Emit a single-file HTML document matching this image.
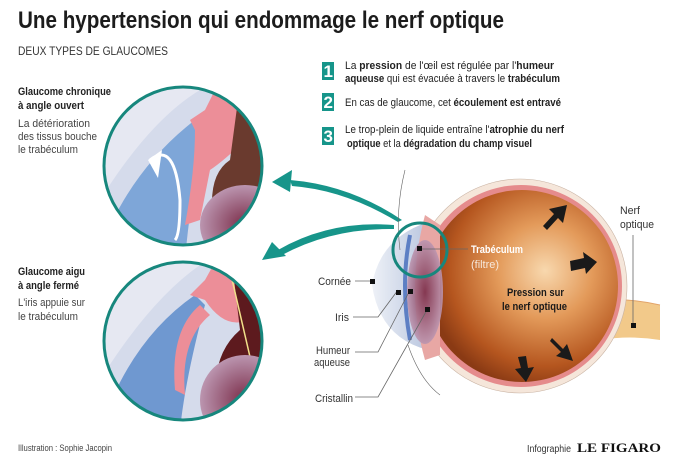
<!DOCTYPE html>
<html><head><meta charset="utf-8"><style>
html,body{margin:0;padding:0;background:#fff;}
svg{display:block;}
text{font-family:"Liberation Sans Narrow","Liberation Sans",sans-serif;}
.b{font-weight:bold;}
</style></head><body>
<svg width="680" height="464" viewBox="0 0 680 464" xmlns="http://www.w3.org/2000/svg">
<defs>
<clipPath id="c1"><circle cx="183" cy="166" r="79"/></clipPath>
<clipPath id="c2"><circle cx="183" cy="341" r="79"/></clipPath>
<radialGradient id="eyeg" cx="0.62" cy="0.42" r="0.62">
<stop offset="0" stop-color="#f8d8ae"/><stop offset="0.4" stop-color="#e39a5a"/><stop offset="0.8" stop-color="#b5561f"/><stop offset="1" stop-color="#8a3a14"/></radialGradient>
<radialGradient id="lens" cx="0.5" cy="0.5" r="0.6"><stop offset="0" stop-color="#7a2c48"/><stop offset="1" stop-color="#c8aac4"/></radialGradient>
<linearGradient id="cor" x1="0" x2="1"><stop offset="0" stop-color="#eef1f7"/><stop offset="1" stop-color="#b9c6df"/></linearGradient>
</defs>
<rect width="680" height="464" fill="#fff"/>
<text x="18" y="28" font-size="24" fill="#1c1c1c" textLength="486" lengthAdjust="spacingAndGlyphs" style="font-weight:600">Une hypertension qui endommage le nerf optique</text>
<text x="18" y="55" font-size="12" fill="#333" textLength="150" lengthAdjust="spacingAndGlyphs">DEUX TYPES DE GLAUCOMES</text>

<g font-size="11" fill="#222">
<rect x="322" y="62" width="12" height="18" fill="#16958a"/><text x="323.5" y="77" font-size="17" fill="#fff" class="b">1</text>
<text x="345" y="69" textLength="209" lengthAdjust="spacingAndGlyphs">La <tspan class="b">pression</tspan> de l'œil est régulée par l'<tspan class="b">humeur</tspan></text>
<text x="345" y="82" textLength="215" lengthAdjust="spacingAndGlyphs"><tspan class="b">aqueuse</tspan> qui est évacuée à travers le <tspan class="b">trabéculum</tspan></text>
<rect x="322" y="93" width="12" height="18" fill="#16958a"/><text x="323.5" y="108" font-size="17" fill="#fff" class="b">2</text>
<text x="345" y="106" textLength="216" lengthAdjust="spacingAndGlyphs">En cas de glaucome, cet <tspan class="b">écoulement est entravé</tspan></text>
<rect x="322" y="127" width="12" height="18" fill="#16958a"/><text x="323.5" y="142" font-size="17" fill="#fff" class="b">3</text>
<text x="345" y="133" textLength="219" lengthAdjust="spacingAndGlyphs">Le trop-plein de liquide entraîne l'<tspan class="b">atrophie du nerf</tspan></text>
<text x="347" y="147" textLength="185" lengthAdjust="spacingAndGlyphs"><tspan class="b">optique</tspan> et la <tspan class="b">dégradation du champ visuel</tspan></text>
</g>

<g font-size="11" fill="#222">
<text x="18" y="95" class="b" textLength="93" lengthAdjust="spacingAndGlyphs">Glaucome chronique</text>
<text x="18" y="109" class="b" textLength="66" lengthAdjust="spacingAndGlyphs">à angle ouvert</text>
<text x="18" y="127" fill="#444" textLength="72" lengthAdjust="spacingAndGlyphs">La détérioration</text>
<text x="18" y="140" fill="#444" textLength="79" lengthAdjust="spacingAndGlyphs">des tissus bouche</text>
<text x="18" y="153" fill="#444" textLength="60" lengthAdjust="spacingAndGlyphs">le trabéculum</text>
<text x="18" y="275" class="b" textLength="67" lengthAdjust="spacingAndGlyphs">Glaucome aigu</text>
<text x="18" y="289" class="b" textLength="61" lengthAdjust="spacingAndGlyphs">à angle fermé</text>
<text x="18" y="306" fill="#444" textLength="67" lengthAdjust="spacingAndGlyphs">L'iris appuie sur</text>
<text x="18" y="320" fill="#444" textLength="60" lengthAdjust="spacingAndGlyphs">le trabéculum</text>
</g>

<g clip-path="url(#c1)">
<rect x="100" y="85" width="170" height="170" fill="#e6e8f2"/>
<path d="M100 200 Q150 120 200 90 L270 90 L270 260 L100 260Z" fill="#d5dbeb"/>
<path d="M100 250 Q130 170 195 120 L205 130 Q190 200 185 260Z" fill="#7ea6d8"/>
<path d="M190 120 L205 110 L215 90 L250 90 L245 140 Q225 160 210 170 L200 220 L185 225 Q195 170 195 130Z" fill="#ec8e98"/>
<path d="M240 85 L270 85 L270 250 L220 250 Q200 180 230 160Z" fill="#6a3a2e"/>
<ellipse cx="245" cy="225" rx="45" ry="40" fill="url(#lens)"/>
<path d="M150 160 Q175 140 180 200 Q180 235 175 240" fill="none" stroke="#fff" stroke-width="3"/>
<path d="M148 160 L162 150 L158 178Z" fill="#fff"/>
</g>
<circle cx="183" cy="166" r="79" fill="none" stroke="#17877d" stroke-width="3"/>

<g clip-path="url(#c2)">
<rect x="100" y="262" width="170" height="170" fill="#e6e8f2"/>
<path d="M100 380 Q150 300 200 265 L270 265 L270 430 L100 430Z" fill="#d5dbeb"/>
<path d="M100 430 Q130 340 195 295 L205 305 Q185 380 180 430Z" fill="#6f98d0"/>
<path d="M190 295 L205 280 L215 262 L250 262 L248 320 Q225 330 205 300Z" fill="#ec8e98"/>
<path d="M200 305 Q170 330 175 390 L185 395 Q180 340 210 315Z" fill="#ec8e98"/>
<path d="M232 262 L270 262 L270 425 L220 425 Q205 360 240 330Z" fill="#5d1a1e"/>
<path d="M228 262 L260 400" stroke="#f2e08a" stroke-width="1.5"/>
<ellipse cx="245" cy="400" rx="45" ry="45" fill="url(#lens)"/>
</g>
<circle cx="183" cy="341" r="79" fill="none" stroke="#17877d" stroke-width="3"/>

<path d="M402 220 Q350 185 290 180 L292 186 Q345 190 398 222Z" fill="#17958a"/>
<path d="M272 182 L292 170 L290 192Z" fill="#17958a"/>
<path d="M394 225 Q330 220 278 250 L282 255 Q332 228 394 229Z" fill="#17958a"/>
<path d="M262 260 L272 242 L286 256Z" fill="#17958a"/>

<path d="M600 300 Q630 298 660 305 L660 340 Q630 335 600 340Z" fill="#f2c98a"/>
<path d="M600 300 Q630 298 660 305" fill="none" stroke="#e2a46a" stroke-width="1"/>
<circle cx="520" cy="286" r="107" fill="#f5e6da" stroke="#c9b3a3" stroke-width="0.6"/>
<circle cx="521" cy="286" r="101" fill="#e58b8c"/>
<circle cx="522" cy="286" r="96" fill="url(#eyeg)"/>
<path d="M428 222 Q380 238 372 285 Q380 338 428 350 Q405 290 428 222Z" fill="url(#cor)"/>
<path d="M410 235 Q400 285 410 340" fill="none" stroke="#5d7fc4" stroke-width="4"/>
<path d="M425 215 L440 225 L440 355 L425 360 Q405 290 425 215Z" fill="#e8a7a4"/>
<ellipse cx="425" cy="292" rx="18" ry="52" fill="url(#lens)" opacity="0.9"/>
<path d="M405 170 Q395 210 400 250" fill="none" stroke="#666" stroke-width="0.6"/>
<path d="M408 345 Q420 380 440 395" fill="none" stroke="#666" stroke-width="0.6"/>
<circle cx="420" cy="250" r="27" fill="none" stroke="#17877d" stroke-width="3"/>

<g fill="#1a1a1a">
<path d="M543 226 l11 -12 l-5 -5 l18 -4 l-4 18 l-5 -5 l-11 12z"/>
<path d="M570 261 l14 -3 l-1 -6 l14 10 l-11 12 l-1 -6 l-14 3z"/>
<path d="M552 338 l11 11 l4 -5 l6 17 l-17 -5 l5 -4 l-11 -11z"/>
<path d="M518 357 l8 -1 l2 12 l6 -1 l-8 15 l-11 -13 l6 -1z"/>
</g>

<g stroke="#666" stroke-width="0.8" fill="none">
<line x1="420" y1="249" x2="468" y2="249"/>
<line x1="355" y1="281" x2="372" y2="281"/>
<path d="M353 317 L378 317 L398 290"/>
<path d="M355 352 L378 352 L410 290"/>
<path d="M355 397 L378 397 L427 310"/>
<line x1="633" y1="235" x2="633" y2="325"/>
</g>
<g fill="#111">
<rect x="417" y="246" width="5" height="5"/>
<rect x="370" y="279" width="5" height="5"/>
<rect x="396" y="290" width="5" height="5"/>
<rect x="408" y="289" width="5" height="5"/>
<rect x="425" y="307" width="5" height="5"/>
<rect x="631" y="323" width="5" height="5"/>
</g>

<g font-size="11" fill="#333">
<text x="471" y="253" class="b" fill="#fff" textLength="52" lengthAdjust="spacingAndGlyphs">Trabéculum</text>
<text x="471" y="268" fill="#f6e8dc" textLength="28" lengthAdjust="spacingAndGlyphs">(filtre)</text>
<text x="318" y="285" textLength="33" lengthAdjust="spacingAndGlyphs">Cornée</text>
<text x="335" y="321" textLength="14" lengthAdjust="spacingAndGlyphs">Iris</text>
<text x="316" y="354" textLength="34" lengthAdjust="spacingAndGlyphs">Humeur</text>
<text x="314" y="366" textLength="36" lengthAdjust="spacingAndGlyphs">aqueuse</text>
<text x="315" y="402" textLength="38" lengthAdjust="spacingAndGlyphs">Cristallin</text>
<text x="620" y="214" textLength="20" lengthAdjust="spacingAndGlyphs">Nerf</text>
<text x="620" y="228" textLength="34" lengthAdjust="spacingAndGlyphs">optique</text>
<text x="507" y="296" class="b" fill="#1a1a1a" textLength="57" lengthAdjust="spacingAndGlyphs">Pression sur</text>
<text x="502" y="310" class="b" fill="#1a1a1a" textLength="65" lengthAdjust="spacingAndGlyphs">le nerf optique</text>
</g>

<text x="18" y="451" font-size="9" fill="#444" textLength="94" lengthAdjust="spacingAndGlyphs">Illustration : Sophie Jacopin</text>
<text x="527" y="452" font-size="10" fill="#333" textLength="44" lengthAdjust="spacingAndGlyphs">Infographie</text>
<text x="577" y="452" font-size="13" font-weight="bold" fill="#111" style="font-family:'Liberation Serif',serif" textLength="84" lengthAdjust="spacingAndGlyphs">LE FIGARO</text>
</svg>
</body></html>
